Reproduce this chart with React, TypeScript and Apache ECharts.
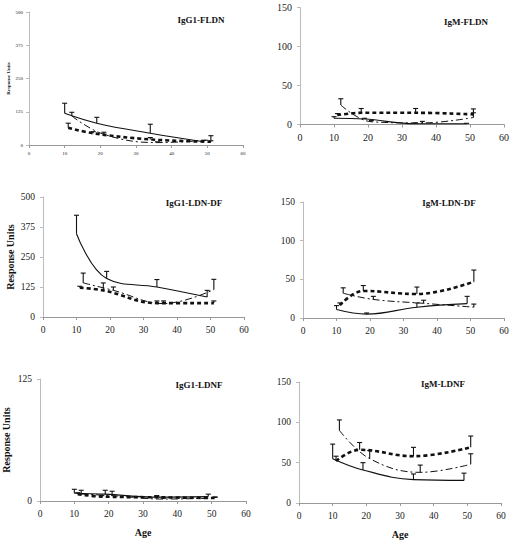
import React, { useEffect, useRef } from "react";
import * as echarts from "echarts";

// Ages (x positions) of the three groups
const solidAges = [10, 19, 34, 49];
const dashDotAges = [12, 21, 36, 51];
const dashAges = [11, 18, 34, 51];

// Panel titles and y-axis settings
const panelTitles = ["IgG1-FLDN", "IgM-FLDN", "IgG1-LDN-DF", "IgM-LDN-DF", "IgG1-LDNF", "IgM-LDNF"];
const yMaxes = [500, 150, 500, 150, 125, 150];
const yIntervals = [125, 50, 125, 50, 125, 50];
const xTickLabels = [0, 10, 20, 30, 40, 50, 60];

// Mean response units per panel
const solidValues = [
  [119, 82, 44, 12],
  [8, 7, 1, 1],
  [347, 160, 125, 83],
  [11, 5, 14, 18.6],
  [8, 7, 4, 4.5],
  [55, 41, 29, 28],
];
const dashDotValues = [
  [109, 40, 9, 19],
  [25, 3.5, 2, 9],
  [142, 111, 56, 114],
  [32, 24, 19, 14],
  [7, 5.5, 2, 3],
  [90, 55, 38, 48],
];
const dashValues = [
  [65, 44, 21, 12],
  [12, 15, 15, 13],
  [122, 111, 58, 58],
  [16.5, 35, 31, 47],
  [7, 4.5, 3.8, 3],
  [52, 66, 58, 69],
];

// Upper error (SE) per panel
const solidErrors = [
  [38, 22, 34, 6],
  [2, 1, 1, 0.5],
  [77, 30, 31, 28],
  [5, 1.5, 5.5, 9.4],
  [4, 4, 1.5, 2.5],
  [18, 9, 7, 9],
];
const dashDotErrors = [
  [14, 8, 3, 16],
  [8, 1.5, 2, 6],
  [41, 14, 11, 43],
  [7, 4, 4, 4],
  [4, 4.5, 1, 1],
  [13, 10, 9, 13],
];
const dashErrors = [
  [17, 6, 7, 4],
  [2, 5.5, 5.5, 7],
  [6, 31, 9, 9],
  [3, 7, 9, 15],
  [1.5, 1, 1.2, 1],
  [6, 9, 11, 14],
];

const FONT = "Liberation Serif";

const grids = [
  { left: 29, top: 12, width: 214, height: 133 },
  { left: 300, top: 7.5, width: 205, height: 117 },
  { left: 43, top: 197, width: 201, height: 120 },
  { left: 303, top: 202, width: 201, height: 116 },
  { left: 37, top: 379, width: 209, height: 122 },
  { left: 299, top: 382, width: 202, height: 121 },
];
const titlePos = [
  [201, 20],
  [466, 22],
  [194, 202.5],
  [449, 202.5],
  [199, 385],
  [443, 384],
];

function errorRender(params: any, api: any) {
  const x = api.value(0);
  const y = api.value(1);
  const top = api.value(2);
  const p0 = api.coord([x, y]);
  const p1 = api.coord([x, top]);
  const style = { stroke: "#111", lineWidth: 1.1, fill: "none" };
  return {
    type: "group",
    children: [
      { type: "line", shape: { x1: p0[0], y1: p0[1], x2: p1[0], y2: p1[1] }, style },
      { type: "line", shape: { x1: p1[0] - 2.5, y1: p1[1], x2: p1[0] + 2.5, y2: p1[1] }, style },
    ],
  };
}

export default function App() {
  const ref = useRef<HTMLDivElement>(null);
  useEffect(() => {
    if (!ref.current) return;
    const chart = echarts.init(ref.current, null, { renderer: "svg" });
    const xAxis: any[] = [];
    const yAxis: any[] = [];
    const series: any[] = [];
    const graphic: any[] = [];
    for (let i = 0; i < 6; i++) {
      const tiny = i === 0;
      const lblSize = tiny ? 5 : i === 1 ? 10 : 9.5;
      xAxis.push({
        gridIndex: i,
        type: "value",
        min: 0,
        max: 60,
        interval: 10,
        axisLine: { show: true, lineStyle: { color: "#999", width: 1 } },
        axisTick: { show: true, length: 3, lineStyle: { color: "#999" } },
        splitLine: { show: false },
        axisLabel: {
          fontFamily: FONT,
          fontSize: lblSize,
          color: "#222",
          margin: tiny ? 6 : 8,
          formatter: (v: number) => (xTickLabels.includes(v) ? String(v) : ""),
        },
        name: i >= 4 ? "Age" : "",
        nameLocation: "middle",
        nameGap: 26,
        nameTextStyle: { fontFamily: FONT, fontSize: 10, fontWeight: "bold", color: "#111" },
      });
      const showName = i === 0 || i === 2 || i === 4;
      yAxis.push({
        gridIndex: i,
        type: "value",
        min: 0,
        max: yMaxes[i],
        interval: yIntervals[i],
        axisLine: { show: true, lineStyle: { color: "#bbb", width: 1 } },
        axisTick: { show: true, length: 3, lineStyle: { color: "#bbb" } },
        splitLine: { show: false },
        axisLabel: { fontFamily: FONT, fontSize: lblSize, color: "#222", margin: tiny ? 6 : 8 },
        name: showName ? "Response Units" : "",
        nameLocation: "middle",
        nameGap: tiny ? 18 : i === 2 ? 28 : 29,
        nameTextStyle: {
          fontFamily: FONT,
          fontSize: tiny ? 5 : 10,
          fontWeight: "bold",
          color: "#111",
        },
      });
      const groups = [
        { ages: solidAges, vals: solidValues[i], errs: solidErrors[i], ls: { color: "#111", width: 1.1, type: "solid" } },
        { ages: dashDotAges, vals: dashDotValues[i], errs: dashDotErrors[i], ls: { color: "#111", width: 1, type: [7, 3, 2, 3] } },
        { ages: dashAges, vals: dashValues[i], errs: dashErrors[i], ls: { color: "#111", width: 2.6, type: [4, 3] } },
      ];
      groups.forEach((g) => {
        series.push({
          type: "line",
          xAxisIndex: i,
          yAxisIndex: i,
          data: g.ages.map((a, k) => [a, g.vals[k]]),
          smooth: 0.4,
          showSymbol: false,
          symbol: "none",
          lineStyle: g.ls,
        });
        series.push({
          type: "custom",
          xAxisIndex: i,
          yAxisIndex: i,
          renderItem: errorRender,
          encode: { x: 0, y: [1, 2] },
          data: g.ages.map((a, k) => [a, g.vals[k], g.vals[k] + g.errs[k]]),
          z: 3,
        });
      });
      graphic.push({
        type: "text",
        x: titlePos[i][0],
        y: titlePos[i][1],
        style: {
          text: panelTitles[i],
          fontFamily: FONT,
          fontSize: 9,
          fontWeight: "bold",
          fill: "#111",
          textAlign: "center",
          textVerticalAlign: "middle",
        },
      });
    }
    chart.setOption({
      animation: false,
      backgroundColor: "#fff",
      grid: grids,
      xAxis,
      yAxis,
      series,
      graphic,
    });
    return () => chart.dispose();
  }, []);
  return (
    <div
      ref={ref}
      style={{ position: "absolute", left: 0, top: 0, width: 512, height: 540 }}
    />
  );
}
